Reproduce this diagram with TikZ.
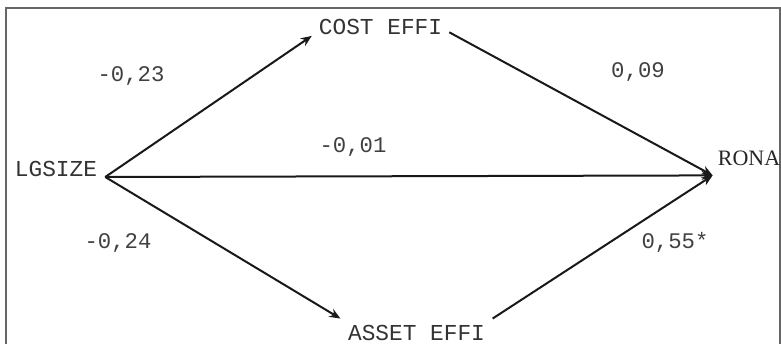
\documentclass[tikz,border=0pt]{standalone}
\usepackage{fontspec}
\usetikzlibrary{arrows.meta}
\newfontfamily\pathmono{Liberation Mono}
\newfontfamily\pathserif{Liberation Serif}
\begin{document}
\begin{tikzpicture}[x=1pt,y=-1pt,
  var/.style={text=black!80, font=\pathmono\fontsize{22.8}{26}\selectfont, inner sep=0pt},
  coef/.style={text=black!75, font=\pathmono\fontsize{22.3}{26}\selectfont, inner sep=0pt, anchor=base},
  endvar/.style={text=black!85, font=\pathserif\fontsize{22}{26}\selectfont, inner sep=0pt},
  path/.style={line width=2pt, draw=black!90, -{Stealth[length=11pt,width=9pt]}},
  frame/.style={line width=1.4pt, draw=black!60}]
  \useasboundingbox (0,0) rectangle (781,344);
  % open frame
  \draw[frame] (6,344) -- (6,8) -- (780,8) -- (780,344);
  % variables
  \node[var, anchor=base, inner xsep=8pt] (lg) at (56,177) {LGSIZE};
  \node[var, anchor=base, inner sep=7pt] (cost) at (380.5,35) {COST EFFI};
  \node[var, anchor=base, inner xsep=7.5pt, inner ysep=6pt] (asset) at (416.5,340) {ASSET EFFI};
  \node[endvar, anchor=base, inner xsep=5pt, inner ysep=9pt] (rona) at (749,166) {RONA};
  % paths
  \draw[path] (lg.base east) -- (cost.187);
  \draw[path] (lg.base east) -- (asset.north west);
  \draw[path] (lg.base east) -- (rona.south west);
  \draw[path] (cost.-4) -- (rona.south west);
  \draw[path] (asset.north east) -- (rona.south west);
  % coefficients
  \node[coef] (c1) at (131,82) {-0,23};
  \node[coef] (c2) at (118,249) {-0,24};
  \node[coef] (c3) at (353,153) {-0,01};
  \node[coef] (c4) at (638,78) {0,09};
  \node[coef] (c5) at (675,249) {0,55*};
\end{tikzpicture}
\end{document}
